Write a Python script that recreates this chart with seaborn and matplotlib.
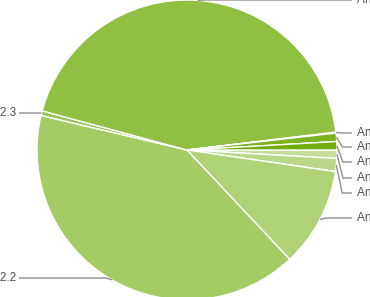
import matplotlib
matplotlib.use("Agg")
import matplotlib.pyplot as plt
import seaborn as sns
import numpy as np

# Data (Android platform distribution)
versions = ["Android 1.5", "Android 1.6", "Android 2.1", "Android 2.2",
            "Android 2.3", "Android 2.3.3", "Android 3.0", "Android 3.1", "Android 3.2"]
shares = [0.9, 1.4, 10.7, 40.7, 0.5, 43.9, 0.1, 0.9, 0.9]

# Layout: label rows (pixel y from top) for each label
label_py = [178, 193, 218, 278, 113, 0, 133, 147, 162]

W, H = 370, 297
CX, CY, R = 187, 150, 150

sns.set_theme(style="white")
plt.rcParams["font.family"] = ["Liberation Sans", "DejaVu Sans"]

colors = sns.blend_palette(["#c4df9b", "#6fad0c"], n_colors=len(versions))

fig = plt.figure(figsize=(W / 100, H / 100), dpi=100)
ax = fig.add_axes([0, 0, 1, 1])
wedges, _ = ax.pie(shares, colors=colors, startangle=0, counterclock=False,
                   radius=1.0, center=(0, 0),
                   wedgeprops=dict(edgecolor="white", linewidth=1.0))
ax.set_xlim(-CX / R, (W - CX) / R)
ax.set_ylim(-(H - CY) / R, CY / R)
ax.set_aspect("equal")
ax.axis("off")


def py2y(py):
    return (CY - py) / R


def px2x(px):
    return (px - CX) / R


line_col = "#8f8f8f"
text_col = "#505050"
for w, name, py in zip(wedges, versions, label_py):
    mid = np.deg2rad((w.theta1 + w.theta2) / 2)
    ax_, ay_ = np.cos(mid), np.sin(mid)
    ly = py2y(py)
    right = ax_ >= 0
    sgn = 1 if right else -1
    ex = ax_ + sgn * 6 / R
    end_x = px2x(352) if right else px2x(19)
    ax.plot([ax_, ex, end_x], [ay_, ly, ly], color=line_col, lw=1.0,
            solid_capstyle="butt", clip_on=False)
    tx = px2x(357) if right else px2x(16)
    ax.text(tx, ly, name, ha="left" if right else "right", va="center",
            fontsize=8.5, color=text_col)

fig.savefig("out.png", dpi=100)
